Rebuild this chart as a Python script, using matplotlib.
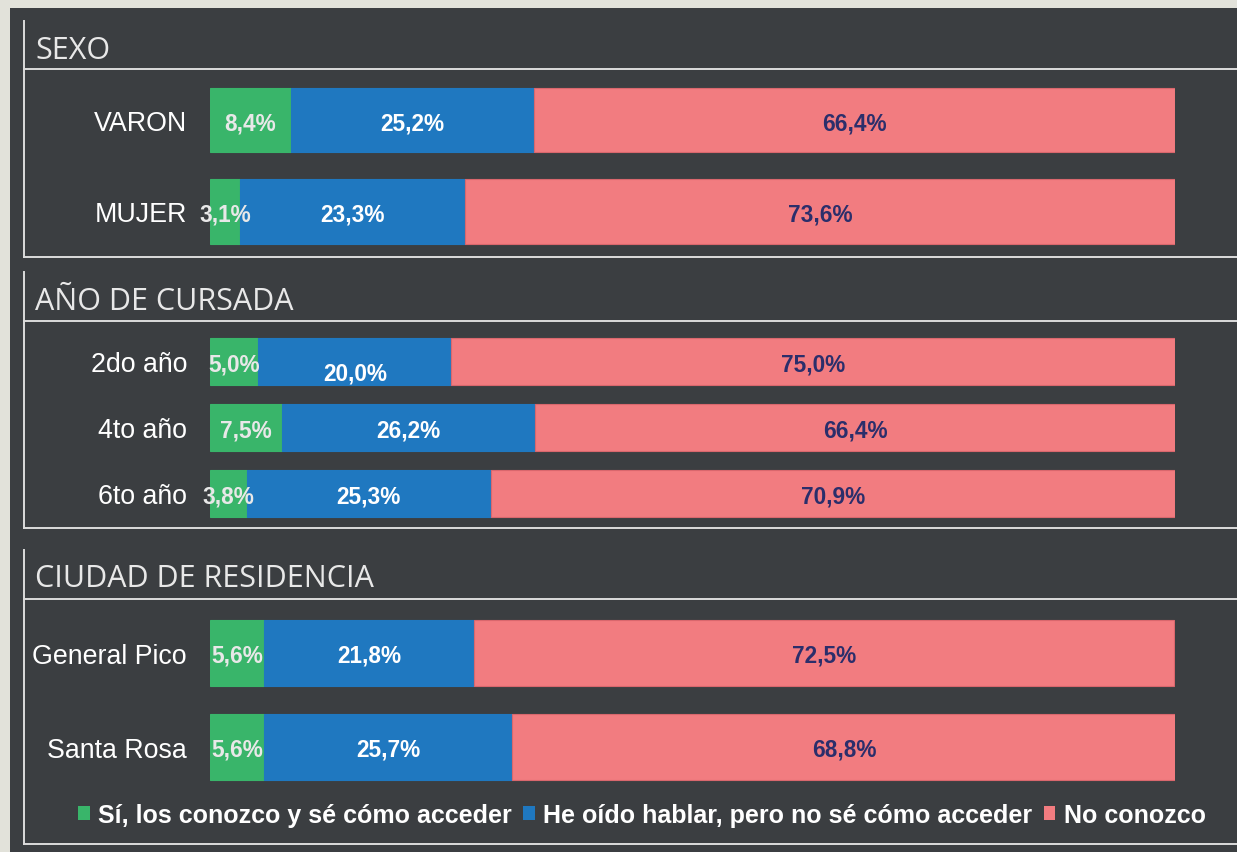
import matplotlib.pyplot as plt
from matplotlib.patches import Patch
from matplotlib.lines import Line2D

W, H = 1237, 853

# survey results, % per answer
sexo_cats = ['VARON', 'MUJER']
sexo_si = [8.4, 3.1]
sexo_oido = [25.2, 23.3]
sexo_no = [66.4, 73.6]

anio_cats = ['2do año', '4to año', '6to año']
anio_si = [5.0, 7.5, 3.8]
anio_oido = [20.0, 26.2, 25.3]
anio_no = [75.0, 66.4, 70.9]

ciudad_cats = ['General Pico', 'Santa Rosa']
ciudad_si = [5.6, 5.6]
ciudad_oido = [21.8, 25.7]
ciudad_no = [72.5, 68.8]

answers = ['Sí, los conozco y sé cómo acceder',
           'He oído hablar, pero no sé cómo acceder',
           'No conozco']

BG = '#3b3e41'
EDGE_BG = '#e2e2da'
LINE = '#dcdcdc'
colors = ['#39b56a', '#1f78c0', '#f27c80']
edges = ['#39b56a', '#1f78c0', '#d9676d']
txt_colors = ['#e8e8e8', 'white', '#2b2e6b']


def fx(x):
    return x / W


def fy(y):
    return 1 - y / H


fig = plt.figure(figsize=(W / 100, H / 100), dpi=100)
fig.patch.set_facecolor(EDGE_BG)
fig.patches.append(plt.Rectangle((fx(10), 0), 1 - fx(10), fy(9), transform=fig.transFigure,
                                 facecolor=BG, edgecolor='none', zorder=-5))


def frame(title, y_top, y_title, y_bottom, y_base):
    kw = dict(transform=fig.transFigure, color=LINE, lw=1.4)
    fig.add_artist(Line2D([fx(24), fx(24)], [fy(y_top), fy(y_bottom)], **kw))
    fig.add_artist(Line2D([fx(24), 1], [fy(y_title), fy(y_title)], **kw))
    fig.add_artist(Line2D([fx(24), 1], [fy(y_bottom), fy(y_bottom)], **kw))
    fig.text(fx(35), fy(y_base), title, family='Open Sans', fontsize=22,
             color='#e8e8e8', va='baseline', ha='left')


def panel(cats, si, oido, no, y_top, y_bottom, nudge=None):
    nudge = nudge or {}
    ax = fig.add_axes([fx(210), fy(y_bottom), fx(1175) - fx(210), (y_bottom - y_top) / H])
    ax.set_facecolor('none')
    n = len(cats)
    pos = list(range(n))
    left = [0] * n
    for k, vals in enumerate([si, oido, no]):
        ax.barh(pos, vals, left=left, height=0.70, color=colors[k],
                edgecolor=edges[k], linewidth=0.8)
        for i, v in enumerate(vals):
            dy = nudge.get((k, i), 0)
            ax.text(left[i] + v / 2, i + dy, f'{v:.1f}%'.replace('.', ','),
                    ha='center', va='center_baseline', fontsize=16.3,
                    fontweight='bold', family='Liberation Sans', color=txt_colors[k])
        left = [a + b for a, b in zip(left, vals)]
    ax.set_xlim(0, 100)
    ax.set_ylim(n - 0.5, -0.5)
    ax.set_yticks(pos)
    ax.set_yticklabels(cats, family='Liberation Sans', fontsize=19.3, color='white')
    ax.tick_params(axis='y', length=0, pad=16.5)
    ax.set_xticks([])
    for s in ax.spines.values():
        s.set_visible(False)
    return ax


frame('SEXO', 22, 70, 258, 59)
panel(sexo_cats, sexo_si, sexo_oido, sexo_no, 75.25, 258.25)

frame('AÑO DE CURSADA', 273, 322, 529, 310)
panel(anio_cats, anio_si, anio_oido, anio_no, 329.5, 527.5, nudge={(1, 0): 0.14})

frame('CIUDAD DE RESIDENCIA', 551, 600, 845, 587)
panel(ciudad_cats, ciudad_si, ciudad_oido, ciudad_no, 607, 795)

handles = [Patch(facecolor=c, edgecolor='none', label=a) for c, a in zip(colors, answers)]
fig.legend(handles=handles, loc='center', bbox_to_anchor=(fx(642), fy(816)), ncol=3,
           frameon=False, handlelength=0.45, handleheight=0.45, handletextpad=0.35,
           columnspacing=0.45, labelcolor='white',
           prop={'family': 'Liberation Sans', 'weight': 'bold', 'size': 18})

fig.savefig('out.png', dpi=100, facecolor=fig.get_facecolor())
